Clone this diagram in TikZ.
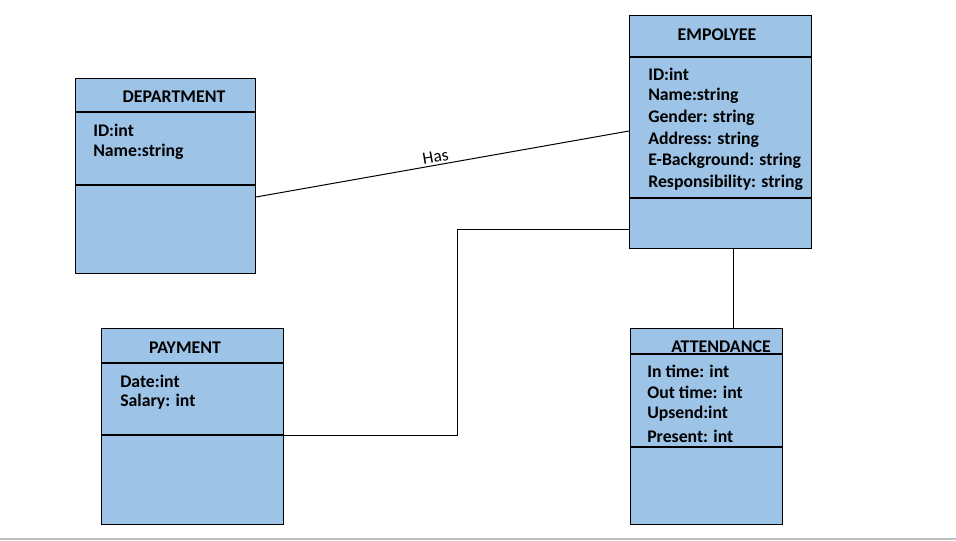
\documentclass[tikz,border=0pt]{standalone}
\usepackage{fontspec}
\setmainfont{Carlito}
\begin{document}
\begin{tikzpicture}[x=0.75pt,y=-0.75pt,
  umlbox/.style={draw=black,fill=boxblue,line width=0.8pt,inner sep=0pt,anchor=north west},
  title/.style={font=\fontsize{13.4}{15}\selectfont\bfseries,inner sep=0pt},
  attr/.style={font=\fontsize{13.3}{15}\selectfont\bfseries,inner sep=0pt,anchor=west},
  conn/.style={draw=black,line width=0.75pt},
  divider/.style={draw=black,line width=0.8pt}]
\definecolor{boxblue}{HTML}{9DC3E6}
\useasboundingbox (0,0) rectangle (956,540);
\fill[white] (0,0) rectangle (956,540);
\draw[draw=black!25,line width=1.5pt] (0,538.5) -- (956,538.5);

% DEPARTMENT
\node[umlbox,minimum width=135pt,minimum height=146.25pt] (dep) at (75,78) {};
\draw[divider] (75,112) -- (255,112);
\draw[divider] (75,185) -- (255,185);
\node[title] (deptitle) at (174,97) {DEPARTMENT};
\node[attr] (dep1) at (93,130) {ID:int};
\node[attr] (dep2) at (93,152) {Name:string};

% EMPOLYEE
\node[umlbox,minimum width=136.5pt,minimum height=174.75pt] (emp) at (629,15) {};
\draw[divider] (629,57) -- (811,57);
\draw[divider] (629,198) -- (811,198);
\node[title] (emptitle) at (717,35) {EMPOLYEE};
\node[attr] (emp1) at (648,74) {ID:int};
\node[attr] (emp2) at (648,96) {Name:string};
\node[attr] (emp3) at (648,118) {Gender: string};
\node[attr] (emp4) at (648,139.5) {Address: string};
\node[attr] (emp5) at (648,161) {E-Background: string};
\node[attr] (emp6) at (648,183) {Responsibility: string};

% PAYMENT
\node[umlbox,minimum width=136.5pt,minimum height=147pt] (pay) at (101,328) {};
\draw[divider] (101,363) -- (283,363);
\draw[divider] (101,435) -- (283,435);
\node[title] (paytitle) at (185,348) {PAYMENT};
\node[attr] (pay1) at (120,381) {Date:int};
\node[attr] (pay2) at (120,402) {Salary: int};

% ATTENDANCE
\node[umlbox,minimum width=114pt,minimum height=147pt] (att) at (630,328) {};
\draw[divider] (630,354) -- (782,354);
\draw[divider] (630,447) -- (782,447);
\node[title] (atttitle) at (721,347) {ATTENDANCE};
\node[attr] (att1) at (647,371) {In time: int};
\node[attr] (att2) at (647,392.5) {Out time: int};
\node[attr] (att3) at (647,414) {Upsend:int};
\node[attr] (att4) at (647,436) {Present: int};

% connectors
\coordinate (depR) at (256,197);
\coordinate (empL) at (629,131);
\draw[conn] (depR) -- node[pos=0.485,above=0.5pt,sloped,font=\fontsize{13}{15}\selectfont,inner sep=1pt] (has) {Has} (empL);

\coordinate (payR) at (283,435);
\coordinate (empL2) at (629,229);
\draw[conn] (payR) -- (457,435) -- (457,229) -- (empL2);

\coordinate (empB) at (733,248);
\coordinate (attT) at (733,328);
\draw[conn] (empB) -- (attT);
\end{tikzpicture}
\end{document}
